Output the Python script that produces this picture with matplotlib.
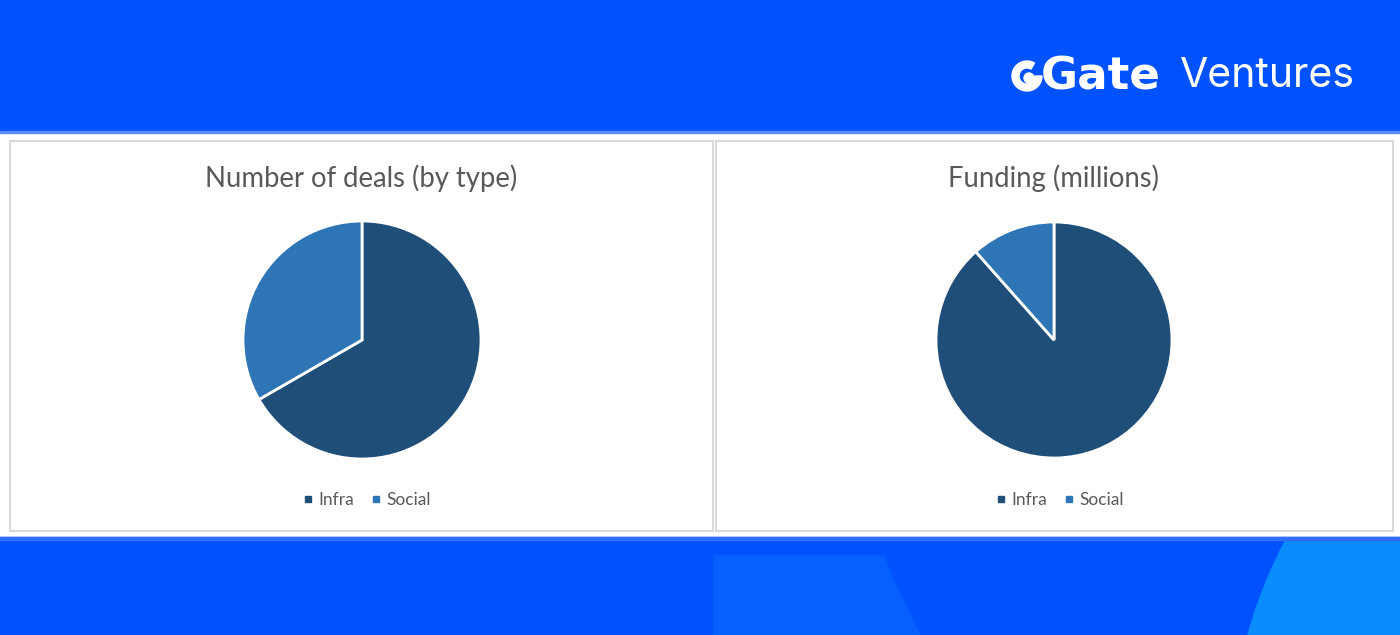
import matplotlib
matplotlib.use("Agg")
import matplotlib.pyplot as plt
from matplotlib.patches import Rectangle, Circle, Wedge, Polygon
from matplotlib.lines import Line2D

# data
categories = ["Infra", "Social"]
deals = [4, 2]
funding = [46, 6]
titles = ["Number of deals (by type)", "Funding (millions)"]
colors = ["#1F4E79", "#2E75B6"]

W, H = 1400, 635
plt.rcParams['font.family'] = ['Lato', 'DejaVu Sans']

fig = plt.figure(figsize=(W / 100, H / 100), dpi=100)
bg = fig.add_axes([0, 0, 1, 1])
bg.set_xlim(0, W)
bg.set_ylim(H, 0)
bg.axis("off")

blue = "#0052FE"
bg.add_patch(Rectangle((0, 0), W, H, color="white", zorder=0))
bg.add_patch(Rectangle((0, 0), W, 131, color=blue, zorder=1))
bg.add_patch(Rectangle((0, 131), W, 2, color="#5a8cff", zorder=1))
band = Rectangle((0, 537), W, 98, color=blue, zorder=1)
bg.add_patch(band)
# lighter shapes in the bottom band
bg.add_patch(Polygon([(714, 556), (884, 556), (893, 580), (920, 635), (714, 635)],
                     closed=True, color="#0560FF", zorder=2))
big = Circle((1700, 760), 469, color="#0A8CFF", zorder=2)
bg.add_patch(big)
big.set_clip_path(band)
bg.add_patch(Rectangle((0, 537), W, 3, color="#2f6cff", zorder=3))

# panels
for x0, x1 in [(10, 713), (716, 1393)]:
    bg.add_patch(Rectangle((x0, 141), x1 - x0, 390, facecolor="white",
                           edgecolor="#d9d9d9", linewidth=1.5, zorder=4))

# logo
bg.add_patch(Wedge((1027, 76), 15, 0, 300, width=7, color="white", zorder=5))
bg.add_patch(Circle((1029, 78), 5, color="white", zorder=5))
bg.text(1041, 77, "Gate", color="white", fontsize=32.5, fontweight="bold",
        ha="left", va="center", zorder=5, family=["DejaVu Sans"])
bg.text(1180, 76, "Ventures", color="white", fontsize=29.5,
        ha="left", va="center", zorder=5, family=["Inter", "DejaVu Sans"])

panels = [(362, 340, 119, deals, 361), (1054, 340, 118, funding, 1054)]
for i, (cx, cy, r, vals, tx) in enumerate(panels):
    ax = fig.add_axes([(cx - r) / W, 1 - (cy + r) / H, 2 * r / W, 2 * r / H])
    ax.pie(vals, colors=colors, startangle=90, counterclock=False, radius=1,
           wedgeprops=dict(edgecolor="white", linewidth=2))
    ax.set_xlim(-1, 1)
    ax.set_ylim(-1, 1)
    ax.set_zorder(6)
    bg.text(tx, 178, titles[i], color="#595959", fontsize=19.8, ha="center",
            va="center", zorder=6)
    handles = [Line2D([], [], marker="s", linestyle="none", color=c, markersize=5)
               for c in colors]
    fig.legend(handles, categories, loc="center", bbox_to_anchor=((tx + 4) / W, 1 - 500 / H),
               ncol=2, frameon=False, fontsize=12.5, handletextpad=0.1,
               handlelength=1.0, columnspacing=0.8, labelcolor="#595959")

fig.savefig("out.png", dpi=100)
